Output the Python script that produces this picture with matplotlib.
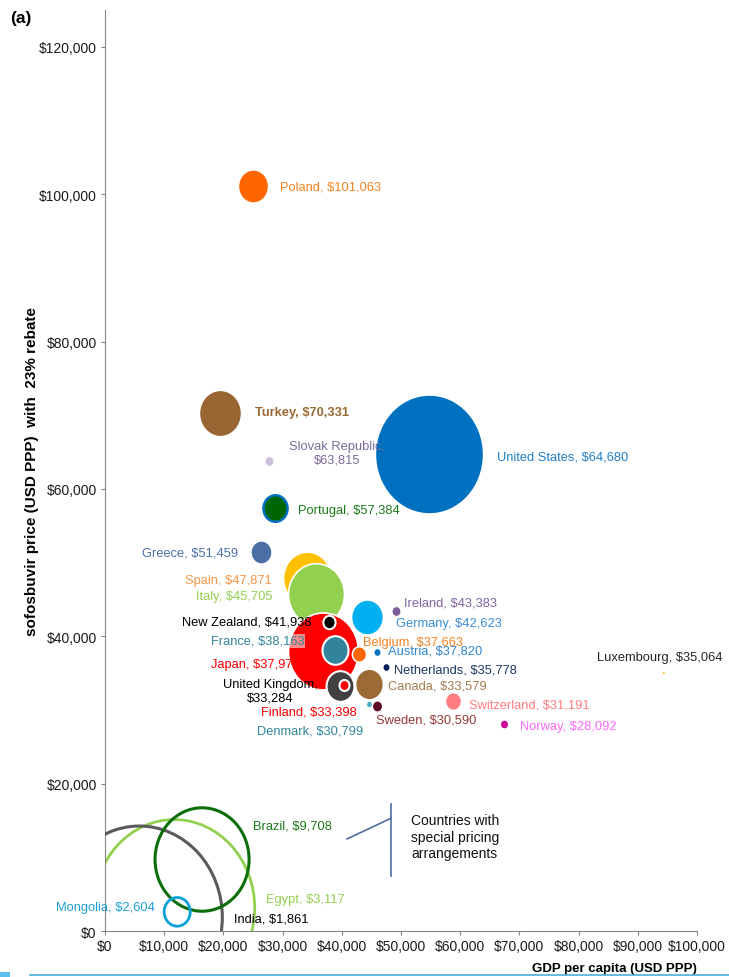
import matplotlib.pyplot as plt
from matplotlib.markers import MarkerStyle
from matplotlib.transforms import Affine2D
from matplotlib.ticker import FuncFormatter
from matplotlib.lines import Line2D
from matplotlib.patches import Rectangle

plt.rcParams['font.family'] = ['Liberation Sans', 'DejaVu Sans']

# data (drawing order: background bubbles first)
countries = ['Egypt', 'India', 'Brazil', 'Mongolia', 'United States', 'Spain', 'Italy',
             'Japan', 'Turkey', 'Germany', 'Canada', 'Poland', 'United Kingdom', 'France',
             'Portugal', 'Greece', 'Switzerland', 'Belgium', 'New Zealand', 'Finland',
             'Slovak Republic', 'Sweden', 'Ireland', 'Norway', 'Austria', 'Netherlands',
             'Denmark', 'Luxembourg']
gdp = [11700, 5800, 16400, 12200, 54700, 34100, 35600,
       36800, 19400, 44300, 44600, 25000, 39700, 38900,
       28700, 26400, 58800, 42900, 37800, 40400,
       27700, 45900, 49200, 67400, 45900, 47500,
       44600, 94400]
price = [3117, 1861, 9708, 2604, 64680, 47871, 45705,
         37972, 70331, 42623, 33579, 101063, 33284, 38163,
         57384, 51459, 31191, 37663, 41938, 33398,
         63815, 30590, 43383, 28092, 37820, 35778,
         30799, 35064]
bubble_size = [25900, 27560, 8840, 680, 11660, 2300, 3140,
               4900, 1760, 1020, 780, 900, 780, 680,
               580, 440, 256, 200, 150, 100,
               80, 100, 80, 64, 50, 50,
               36, 4]

# style per country: fill, edge, edge width, label colour, label offset (px), ha, bold, two-line
style = {
    'Egypt':           ('none', '#92D050', 2.0, '#92D050', (92, 9), 'left', False, False),
    'India':           ('none', '#5A5A5A', 2.2, 'black', (95, -1), 'left', False, False),
    'Brazil':          ('none', '#0B6E0B', 2.2, '#1A7A1A', (51, 34), 'left', False, False),
    'Mongolia':        ('none', '#0AA0D8', 2.0, '#1AA0D8', (-22, 5), 'right', False, False),
    'United States':   ('#0070C0', 'white', 1.0, '#1F7FC8', (68, -2), 'left', False, False),
    'Spain':           ('#FFC000', 'white', 1.2, '#F79646', (-35, -2), 'right', False, False),
    'Italy':           ('#92D050', 'white', 1.2, '#92D050', (-43, -2), 'right', False, False),
    'Japan':           ('#FF0000', 'white', 1.2, '#FF0000', (-112, -13), 'left', False, False),
    'Turkey':          ('#996633', 'white', 1.0, '#9C6A35', (35, 1), 'left', True, False),
    'Germany':         ('#00B0F0', 'white', 1.2, '#3A8DD8', (29, -6), 'left', False, False),
    'Canada':          ('#9C6A35', 'white', 1.2, '#A67C52', (19, -2), 'left', False, False),
    'Poland':          ('#FF6600', 'white', 1.0, '#F5821F', (27, 0), 'left', False, False),
    'United Kingdom':  ('#404040', 'white', 1.5, 'black', (-70, -5), 'center', False, True),
    'France':          ('#31849B', 'white', 1.5, '#31849B', (-31, 9), 'right', False, False),
    'Portugal':        ('#006600', '#0070C0', 1.8, '#1A7A1A', (23, -2), 'left', False, False),
    'Greece':          ('#4A6FA5', 'white', 1.0, '#4A6FA5', (-23, -1), 'right', False, False),
    'Switzerland':     ('#FF7C80', 'white', 1.0, '#FF7C80', (16, -3), 'left', False, False),
    'Belgium':         ('#FF6600', 'white', 1.2, '#F5821F', (4, 12), 'left', False, False),
    'New Zealand':     ('black', 'white', 1.5, 'black', (-17, 1), 'right', False, False),
    'Finland':         ('#FF0000', 'white', 1.5, '#FF0000', (-83, -27), 'left', False, False),
    'Slovak Republic': ('#CCC0DA', 'white', 0.8, '#7B6B9A', (68, 8), 'center', False, True),
    'Sweden':          ('#5E0B2A', 'white', 0.8, '#953735', (-1, -14), 'left', False, False),
    'Ireland':         ('#7A5C99', 'white', 0.8, '#8064A2', (8, 9), 'left', False, False),
    'Norway':          ('#CC0099', 'white', 0.8, '#FF66FF', (16, -2), 'left', False, False),
    'Austria':         ('#0070C0', 'white', 0.8, '#2E86D0', (11, 2), 'left', False, False),
    'Netherlands':     ('#002060', 'white', 0.8, '#1F3864', (8, -2), 'left', False, False),
    'Denmark':         ('#4BACC6', 'white', 0.8, '#31859C', (-112, -26), 'left', False, False),
    'Luxembourg':      ('#FFC000', 'none', 0.0, '#262626', (-67, 16), 'left', False, False),
}

DPI = 100
PT = 72 / DPI  # points per pixel

fig = plt.figure(figsize=(7.29, 9.78), dpi=DPI)
ax = fig.add_axes([0.1440, 0.0470, 0.8121, 0.9418])

# slightly tall bubbles, as in the original picture
bubble = MarkerStyle('o', transform=Affine2D().scale(1, 1.1))

for i, name in enumerate(countries):
    fill, edge, lw, lcol, (dx, dy), ha, bold, two = style[name]
    ax.scatter(gdp[i], price[i], s=bubble_size[i] * PT ** 2, marker=bubble,
               facecolors=fill, edgecolors=edge, linewidths=lw, zorder=2 + i)
    sep = ',\n' if two else ', '
    text = f"{name}{sep}${price[i]:,}"
    box = None
    if name == 'France':
        box = dict(fc='white', ec='none', alpha=0.55, pad=0.6)
    ax.annotate(text, (gdp[i], price[i]), xytext=(dx * PT, dy * PT),
                textcoords='offset points', ha=ha, va='center', color=lcol,
                fontsize=9.3, fontweight='bold' if bold else 'normal',
                zorder=60, bbox=box)

# bracket for the special pricing group
bc = '#4F6FA0'
ax.plot([48300, 48300], [7500, 17200], color=bc, lw=1.2, zorder=1)
ax.plot([40900, 48300], [12500, 15300], color=bc, lw=1.2, zorder=1)
ax.text(51700, 12800, 'Countries with\nspecial pricing\narrangements',
        ha='left', va='center', multialignment='left', fontsize=10,
        linespacing=1.25, color='#111111')

ax.set_xlim(0, 100000)
ax.set_ylim(0, 125000)
ax.set_xticks(range(0, 100001, 10000))
ax.set_yticks(range(0, 120001, 20000))
money = FuncFormatter(lambda v, _: f"${v:,.0f}")
ax.xaxis.set_major_formatter(money)
ax.yaxis.set_major_formatter(money)
ax.tick_params(length=4 * PT, width=0.8, color='#868686', labelsize=10,
               pad=3, labelcolor='#1a1a1a')
for side in ['top', 'right']:
    ax.spines[side].set_visible(False)
for side in ['left', 'bottom']:
    ax.spines[side].set_color('#868686')
    ax.spines[side].set_linewidth(0.8)

ax.set_ylabel('sofosbuvir price (USD PPP)  with  23% rebate', fontweight='bold',
              fontsize=11, labelpad=0)
ax.set_xlabel('GDP per capita (USD PPP)', loc='right', fontweight='bold',
              fontsize=9.5, labelpad=6)

fig.text(10 / 729, 1 - 18 / 978, '(a)', fontweight='bold', fontsize=12.5, va='center')

# thin page rule at the bottom edge
fig.add_artist(Line2D([30 / 729, 1], [1 - 976 / 978] * 2, color='#4AAEDB', lw=1.2))
fig.add_artist(Rectangle((0, 0), 10 / 729, 5 / 978, color='#5BC0EB', lw=0))

fig.savefig('out.png', dpi=DPI)
